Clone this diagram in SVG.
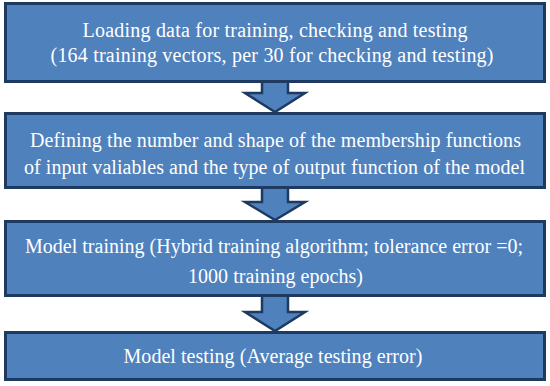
<svg xmlns="http://www.w3.org/2000/svg" width="550" height="386" viewBox="0 0 550 386">
<style>
.box{fill:#4F81BD;stroke:#1F3A60;stroke-width:3}
.arr{fill:#4F81BD;stroke:#1F3A60;stroke-width:2.5;stroke-linejoin:miter}
text{font-family:"Liberation Serif","Times New Roman",serif;font-size:20px;fill:#FFFFFF;text-anchor:middle}
</style>
<rect x="0" y="0" width="550" height="386" fill="#FFFFFF"/>
<g id="connectors">
<path class="arr" d="M262,81 L288,81 L288,93 L305,93 L275,112 L245,93 L262,93 Z"/>
<path class="arr" d="M262,187 L288,187 L288,202 L305,202 L275,220 L245,202 L262,202 Z"/>
<path class="arr" d="M262,295 L288,295 L288,312 L305,312 L275,331 L245,312 L262,312 Z"/>
</g>
<g id="node1">
<rect class="box" x="5.5" y="3.5" width="539" height="78"/>
<text x="275" y="37" textLength="385" lengthAdjust="spacing">Loading data for training, checking and testing</text>
<text x="272" y="62" textLength="443" lengthAdjust="spacing">(164 training vectors, per 30 for checking and testing)</text>
</g>
<g id="node2">
<rect class="box" x="5.5" y="113.5" width="539" height="74"/>
<text x="275.5" y="147" textLength="491" lengthAdjust="spacing">Defining the number and shape of the membership functions</text>
<text x="274.5" y="174" textLength="501" lengthAdjust="spacing">of input valiables and the type of output function of the model</text>
</g>
<g id="node3">
<rect class="box" x="5.5" y="221.5" width="539" height="74"/>
<text x="274" y="253" textLength="498" lengthAdjust="spacing">Model training (Hybrid training algorithm; tolerance error =0;</text>
<text x="275.5" y="283" textLength="175" lengthAdjust="spacing">1000 training epochs)</text>
</g>
<g id="node4">
<rect class="box" x="5.5" y="332.5" width="539" height="47"/>
<text x="273" y="363" textLength="299" lengthAdjust="spacing">Model testing (Average testing error)</text>
</g>
</svg>
